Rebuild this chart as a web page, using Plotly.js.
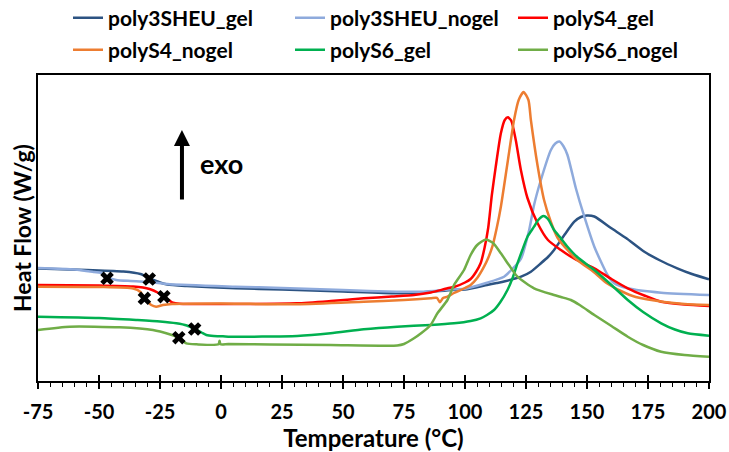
<!DOCTYPE html>
<html>
<head>
<meta charset="utf-8">
<script src="https://cdn.plot.ly/plotly-3.0.1.min.js"></script>
<style>html,body{margin:0;padding:0;background:#fff;}#chart{width:729px;height:452px;}</style>
</head>
<body>
<div id="chart"></div>
<script>
// Series names
const seriesNames = ["poly3SHEU_gel", "poly3SHEU_nogel", "polyS4_gel", "polyS4_nogel", "polyS6_gel", "polyS6_nogel"];

// Temperature (°C) and heat flow (arbitrary offset units) per series
const t_3SHEU_gel = [-75,-55,-40,-33,-29,-25,-22,-14,6,25,50,72,82,95,100,109,113,116,123,127,131,134,136.5,139.3,141,144.8,147.5,150,153,160,166,173.5,180,187,193,200];
const hf_3SHEU_gel = [1.125,1.11,1.095,1.07,1.025,0.985,0.965,0.95,0.927,0.915,0.895,0.877,0.885,0.91,0.915,0.96,0.98,0.995,1.043,1.093,1.175,1.24,1.31,1.41,1.47,1.593,1.64,1.655,1.645,1.527,1.43,1.293,1.205,1.127,1.07,1.017];

const t_3SHEU_nogel = [-75,-60,-52,-48.4,-46.7,-43,-37,-30.7,-21,6,25,50,72,82,95,100,109,116,119,122.9,126.3,128.3,131.1,135.2,137,138.7,140.3,142,145.4,148.9,153,158.4,161,166.7,180.4,200];
const hf_3SHEU_nogel = [1.13,1.115,1.09,1.077,1.04,1.01,1.0,0.993,0.967,0.943,0.93,0.91,0.893,0.893,0.917,0.923,0.983,1.043,1.11,1.22,1.51,1.76,2.01,2.31,2.375,2.395,2.35,2.26,1.93,1.643,1.343,1.06,0.98,0.927,0.883,0.86];

const t_S4_gel = [-75,-50,-36,-32,-29.3,-26,-23.4,-19.7,-17,0,31,45,58.5,70,79.1,86,92.8,95.5,100,102.3,104.5,106.4,108,109.5,111,112.6,114.7,116.3,117.6,119,120.8,122.9,125.6,129.7,134,139.3,145,153,160,166.7,174,180.4,190,200];
const hf_S4_gel = [0.96,0.955,0.945,0.935,0.92,0.885,0.843,0.783,0.773,0.77,0.777,0.8,0.827,0.845,0.86,0.885,0.927,0.94,0.985,1.02,1.09,1.177,1.33,1.53,1.86,2.143,2.477,2.61,2.637,2.6,2.41,2.11,1.83,1.58,1.41,1.31,1.22,1.127,1.02,0.927,0.85,0.793,0.765,0.75];

const t_S4_nogel = [-75,-50,-36,-33,-31.4,-29.5,-28.6,-26.6,-23.8,-20,0,31.2,58.5,75,85.9,88.5,89.7,91,92.8,95.5,100,102.3,105,107.8,109.5,111.2,113,114.7,117.4,120.1,122,124,126,127,129.7,132.4,135.2,138,142,146,153,158,163.9,170,181.7,190,200];
const hf_S4_nogel = [0.943,0.94,0.925,0.89,0.827,0.78,0.76,0.743,0.76,0.77,0.775,0.767,0.793,0.81,0.827,0.832,0.787,0.83,0.843,0.88,0.93,0.96,1.03,1.143,1.23,1.343,1.53,1.743,2.177,2.61,2.81,2.89,2.81,2.61,2.16,1.81,1.59,1.43,1.31,1.21,1.085,0.98,0.9,0.84,0.79,0.77,0.76];

const t_S6_gel = [-75,-50,-34.8,-25,-18.3,-14,-10.8,-8,-6,-3,0.8,3.8,31.2,44.9,58.5,72.2,85.9,95.5,102.3,106.4,109,111.9,114.5,117.4,119.5,121.5,123.5,125.6,128.3,130,132.2,134,136.5,139.3,142,146,153,160,166.7,173,180.4,186,191.3,200];
const hf_S6_gel = [0.643,0.63,0.61,0.595,0.577,0.555,0.52,0.485,0.46,0.45,0.447,0.443,0.45,0.477,0.517,0.543,0.56,0.577,0.6,0.627,0.66,0.71,0.79,0.91,1.03,1.177,1.31,1.443,1.543,1.61,1.65,1.62,1.51,1.427,1.343,1.24,1.11,0.96,0.81,0.69,0.577,0.515,0.477,0.453];

const t_S6_nogel = [-75,-62,-41.6,-27.9,-21.1,-17.3,-14.2,-10,-1,-0.6,-0.2,3,20,44.9,72.2,75,79.1,82,85.9,88.7,92.8,95.5,99.6,102.3,105,108.5,111.5,114.7,118,121.5,128.3,136.5,139.3,143.4,147,153,160,166.7,173,180.4,190,200];
const hf_S6_nogel = [0.51,0.543,0.537,0.51,0.467,0.433,0.377,0.367,0.367,0.403,0.367,0.37,0.365,0.36,0.355,0.37,0.427,0.477,0.56,0.677,0.81,0.96,1.11,1.26,1.36,1.415,1.38,1.277,1.16,1.043,0.927,0.86,0.84,0.81,0.76,0.66,0.55,0.443,0.36,0.293,0.26,0.243];

// Glass transition markers (X)
const tg_T = [-46.7, -29.4, -31.4, -23.4, -10.8, -17.3];
const tg_HF = [1.027, 1.02, 0.827, 0.843, 0.52, 0.433];

// x tick labels
const xTicks = [-75,-50,-25,0,25,50,75,100,125,150,175,200];

const colors = ["#2C5382", "#8EAADC", "#FF0000", "#ED7D31", "#00B050", "#70AD47"];
const xs = [t_3SHEU_gel, t_3SHEU_nogel, t_S4_gel, t_S4_nogel, t_S6_gel, t_S6_nogel];
const ys = [hf_3SHEU_gel, hf_3SHEU_nogel, hf_S4_gel, hf_S4_nogel, hf_S6_gel, hf_S6_nogel];

const FONT = "Lato, 'Open Sans', sans-serif";
const legendIds = ["legend", "legend2", "legend3", "legend4", "legend5", "legend6"];

const traces = seriesNames.map((n, i) => ({
  type: "scatter", mode: "lines", name: n, x: xs[i], y: ys[i],
  line: {color: colors[i], width: 2.5, shape: "spline", smoothing: 0.6},
  legend: legendIds[i],
  hoverinfo: "skip"
}));
traces.push({
  type: "scatter", mode: "markers", x: tg_T, y: tg_HF, showlegend: false,
  marker: {symbol: "x", size: 12, color: "#000", line: {width: 0}}
});
// invisible trace on overlay axis for crossing major ticks
traces.push({type: "scatter", x: [-75], y: [0], xaxis: "x2", mode: "markers", marker: {opacity: 0}, showlegend: false, hoverinfo: "skip"});

const legendCols = [68, 290, 513];
const legendRows = [18, 50];

const layout = {
  width: 729, height: 452,
  margin: {l: 38, r: 20, t: 75, b: 71, autoexpand: false},
  paper_bgcolor: "#fff", plot_bgcolor: "#fff",
  font: {family: FONT, color: "#000"},
  showlegend: true,
  xaxis: {
    range: [-75, 200], tickvals: xTicks, ticktext: xTicks.map(String),
    showline: true, linecolor: "#000", linewidth: 2, mirror: true,
    ticks: "outside", ticklen: 6, tickwidth: 1.5, tickcolor: "#000",
    minor: {dtick: 5, ticks: "outside", ticklen: 4, tickwidth: 1, tickcolor: "#000"},
    showgrid: false, zeroline: false, ticklabelstandoff: 6,
    tickfont: {family: FONT, size: 20, weight: "bold", color: "#000"},
    title: {text: "Temperature (°C)", font: {family: FONT, size: 24, weight: "bold", color: "#000"}, standoff: 2},
    fixedrange: true, automargin: false
  },
  xaxis2: {
    overlaying: "x", anchor: "y", side: "bottom", range: [-75, 200], tickvals: xTicks,
    ticks: "inside", ticklen: 6, tickwidth: 1.5, tickcolor: "#000",
    showticklabels: false, showline: false, showgrid: false, zeroline: false
  },
  yaxis: {
    range: [0, 3.06], showline: true, linecolor: "#000", linewidth: 2, mirror: true,
    ticks: "", showticklabels: false, showgrid: false, zeroline: false,
    fixedrange: true, automargin: false
  },
  annotations: [
    {x: -16, y: 2.51, ax: -16, ay: 1.8, xref: "x", yref: "y", axref: "x", ayref: "y",
     text: "", showarrow: true, arrowhead: 2, arrowsize: 0.8, arrowwidth: 4, arrowcolor: "#000"},
    {x: 0, y: 2.18, xref: "x", yref: "y", text: "exo", showarrow: false,
     font: {family: FONT, size: 27, weight: "bold", color: "#000"}},
    // y-axis title
    {x: 22 / 729, y: 0.5, xref: "paper", yref: "paper", xanchor: "center", yanchor: "middle",
     text: "Heat Flow (W/g)", textangle: -90, showarrow: false,
     font: {family: FONT, size: 23, weight: "bold", color: "#000"}}
  ]
};
// place y title relative to container: convert px 22 to paper x
layout.annotations[2].x = (22 - 38) / (729 - 38 - 20);

legendIds.forEach((id, i) => {
  layout[id] = {
    orientation: "v", xref: "container", yref: "container",
    x: legendCols[i % 3] / 729, y: 1 - legendRows[Math.floor(i / 3)] / 452,
    xanchor: "left", yanchor: "middle",
    font: {family: FONT, size: 21, color: "#000", weight: "bold"},
    bgcolor: "rgba(0,0,0,0)", borderwidth: 0, itemwidth: 30
  };
});

Plotly.newPlot("chart", traces, layout, {staticPlot: true, displayModeBar: false});
</script>
</body>
</html>
